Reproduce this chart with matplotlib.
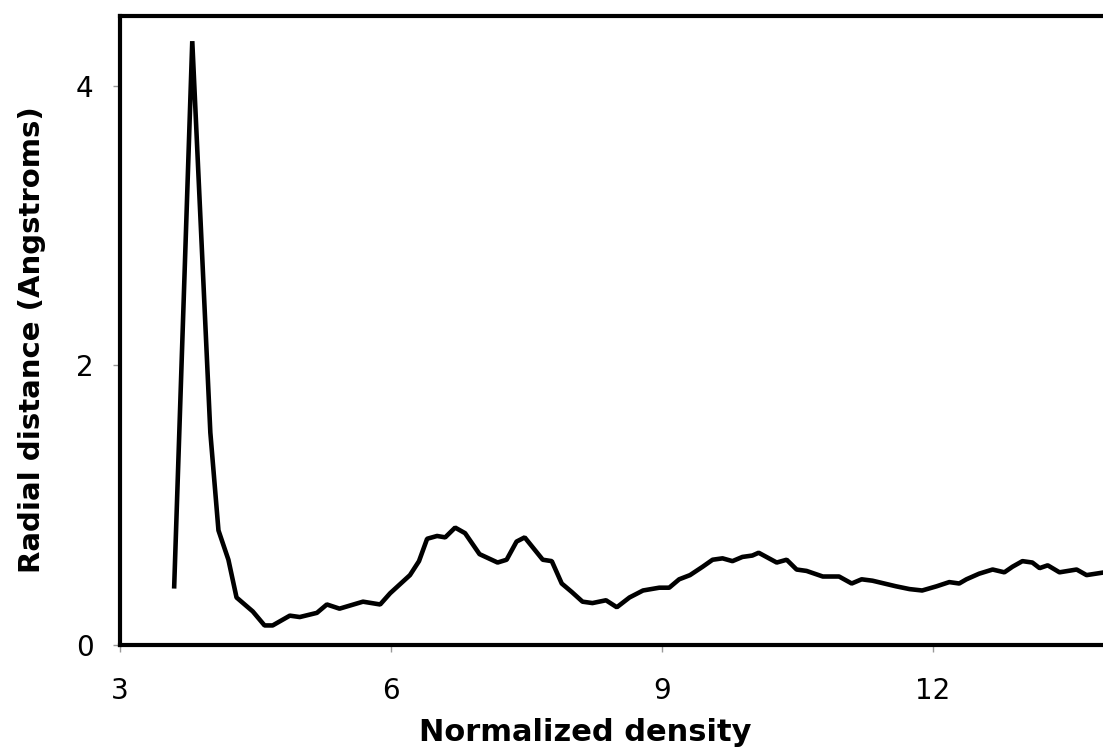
import numpy as np
import matplotlib

matplotlib.use("Agg")
from matplotlib import pyplot as plt

# values
density = [3.60, 3.80, 4.00, 4.09, 4.20, 4.29, 4.47, 4.60, 4.69, 4.88, 4.99, 5.18,
           5.29, 5.43, 5.69, 5.88, 5.99, 6.21, 6.31, 6.40, 6.51, 6.60, 6.71, 6.82,
           6.98, 7.18, 7.28, 7.39, 7.48, 7.68, 7.78, 7.89, 8.00, 8.12, 8.23, 8.38,
           8.50, 8.64, 8.79, 8.97, 9.08, 9.19, 9.31, 9.45, 9.56, 9.67, 9.78, 9.89,
           10.00, 10.07, 10.27, 10.38, 10.49, 10.60, 10.78, 10.96, 11.10, 11.21,
           11.33, 11.46, 11.59, 11.74, 11.88, 12.04, 12.18, 12.29, 12.37, 12.51,
           12.66, 12.79, 12.88, 12.99, 13.10, 13.18, 13.27, 13.40, 13.59, 13.70,
           13.90]
radial = [0.42, 4.32, 1.52, 0.82, 0.61, 0.34, 0.24, 0.14, 0.14, 0.21, 0.20, 0.23,
          0.29, 0.26, 0.31, 0.29, 0.37, 0.50, 0.60, 0.76, 0.78, 0.77, 0.84, 0.80,
          0.65, 0.59, 0.61, 0.74, 0.77, 0.61, 0.60, 0.44, 0.38, 0.31, 0.30, 0.32,
          0.27, 0.34, 0.39, 0.41, 0.41, 0.47, 0.50, 0.56, 0.61, 0.62, 0.60, 0.63,
          0.64, 0.66, 0.59, 0.61, 0.54, 0.53, 0.49, 0.49, 0.44, 0.47, 0.46, 0.44,
          0.42, 0.40, 0.39, 0.42, 0.45, 0.44, 0.47, 0.51, 0.54, 0.52, 0.56, 0.60,
          0.59, 0.55, 0.57, 0.52, 0.54, 0.50, 0.52]

x_ticks = [3, 6, 9, 12]
y_ticks = [0, 2, 4]

plt.rcParams['font.family'] = ['DejaVu Sans']

fig = plt.figure(figsize=(11.03, 7.47), dpi=100)
# axes runs past the right edge of the figure, like the cropped original
ax = fig.add_axes([120 / 1103, 102 / 747, 1084 / 1103, 629 / 747])

ax.plot(density, radial, color='black', lw=3.3, solid_joinstyle='bevel')

ax.set_xlim(3, 15)
ax.set_ylim(0, 4.5)
ax.set_xticks(x_ticks)
ax.set_yticks(y_ticks)

for side in ['left', 'bottom', 'top']:
    ax.spines[side].set_linewidth(3.0)
    ax.spines[side].set_color('black')
ax.spines['right'].set_visible(False)

ax.tick_params(axis='both', direction='out', length=5, width=1, color='#999999',
               labelsize=20)
ax.tick_params(axis='x', pad=18)
ax.tick_params(axis='y', pad=14)

ax.set_xlabel('Normalized density', fontsize=22, fontweight='bold')
ax.xaxis.set_label_coords(0.429, -0.116)
ax.set_ylabel('Radial distance (Angstroms)', fontsize=21, fontweight='bold')
ax.yaxis.set_label_coords(-0.068, 0.485)

fig.savefig('out.png', dpi=100)
